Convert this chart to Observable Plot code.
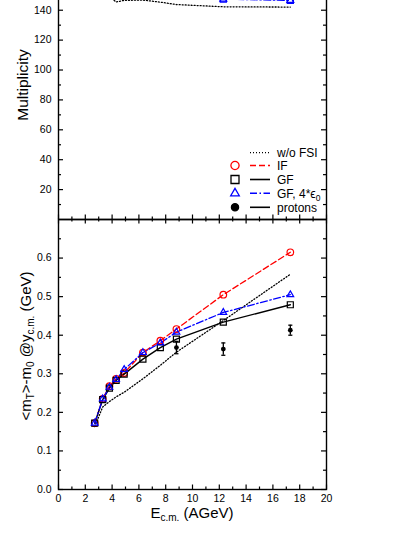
<!DOCTYPE html>
<html><head><meta charset="utf-8">
<script src="https://cdn.jsdelivr.net/npm/d3@7"></script>
<script src="https://cdn.jsdelivr.net/npm/@observablehq/plot@0.6"></script>
<style>
body{margin:0;background:#fff;}
#chart{position:relative;width:415px;height:537px;overflow:hidden;background:#fff;}
#chart svg{display:block;position:absolute;left:0;}
</style></head><body><div id="chart"></div>
<script>
// ---- data ----
const energies = [2.7, 3.3, 3.8, 4.3, 4.9, 6.3, 7.6, 8.8, 12.3, 17.3];
const mtIF    = [0.172, 0.235, 0.268, 0.287, 0.302, 0.355, 0.386, 0.416, 0.505, 0.615];
const mtGF    = [0.172, 0.233, 0.263, 0.283, 0.299, 0.338, 0.368, 0.390, 0.434, 0.479];
const mtGF4   = [0.172, 0.235, 0.265, 0.285, 0.311, 0.355, 0.380, 0.408, 0.459, 0.505];
const mtNoFSI = [0.163, 0.214, 0.228, 0.240, 0.252, 0.287, 0.322, 0.356, 0.438, 0.558];
const protonE   = [8.8, 12.3, 17.3];
const protonMt  = [0.368, 0.364, 0.413];
const protonErr = [0.016, 0.016, 0.013];
const multE     = [3.8, 4.3, 4.9, 6.3, 7.6, 8.8, 12.3, 17.3];
const multNoFSI = [149, 145.5, 146.6, 146.8, 145.4, 143.8, 142.3, 142.1];
const multGF4E  = [12.3, 17.3];
const multGF4   = [147.4, 146.6];
const xMajor = [0, 2, 4, 6, 8, 10, 12, 14, 16, 18, 20];
const xMinor = [1, 3, 5, 7, 9, 11, 13, 15, 17, 19];
const mtMajor = [0, 0.1, 0.2, 0.3, 0.4, 0.5, 0.6];
const mtMinor = [0.05, 0.15, 0.25, 0.35, 0.45, 0.55, 0.65];
const multMajor = [20, 40, 60, 80, 100, 120, 140];
const multMinor = [10, 30, 50, 70, 90, 110, 130];
const legendItems = [
  {label: "w/o FSI", symbol: null, stroke: "#000", dash: "1,2", fill: "none"},
  {label: "IF", symbol: "circle", stroke: "#ff0000", dash: "6,3", fill: "none"},
  {label: "GF", symbol: "square", stroke: "#000", dash: null, fill: "none"},
  {label: "GF, 4*", sub: "0", eps: true, symbol: "triangle", stroke: "#0000ff", dash: "7,2.5,1.5,2.5", fill: "none"},
  {label: "protons", symbol: "circle", stroke: "#000", dash: null, fill: "#000"}
];

const font = "'Liberation Sans', Arial, sans-serif";
const W = 415, ML = 58, MR = 89;
const FW = W - ML - MR;
const zip = (xs, ys) => xs.map((x, i) => ({x, y: ys[i]}));
const capSym = {draw(ctx, size) { const r = Math.sqrt(size) / 2; ctx.moveTo(-r, 0); ctx.lineTo(r, 0); }};

function tickMarks(xMaj, xMin, yMaj, yMin, FH, topTicks) {
  const m = [
    Plot.tickY(yMaj, {y: d => d, insetRight: FW - 5, strokeWidth: 1.2}),
    Plot.tickY(yMin, {y: d => d, insetRight: FW - 3, strokeWidth: 1.2}),
    Plot.tickY(yMaj, {y: d => d, insetLeft: FW - 5, strokeWidth: 1.2}),
    Plot.tickY(yMin, {y: d => d, insetLeft: FW - 3, strokeWidth: 1.2}),
    Plot.tickX(xMaj, {x: d => d, insetTop: FH - 4.5, strokeWidth: 1.2}),
    Plot.tickX(xMin, {x: d => d, insetTop: FH - 2.5, strokeWidth: 1.2})
  ];
  if (topTicks) {
    m.push(Plot.tickX(xMaj, {x: d => d, insetBottom: FH - 4.5, strokeWidth: 1.2}));
    m.push(Plot.tickX(xMin, {x: d => d, insetBottom: FH - 2.5, strokeWidth: 1.2}));
  }
  return m;
}

// ---- top panel (multiplicity) ----
const topH = 221, topMB = 2;
const topFH = topH - topMB;
const topPlot = Plot.plot({
  width: W, height: topH,
  marginLeft: ML, marginRight: MR, marginTop: 0, marginBottom: topMB,
  style: {fontFamily: font, fontSize: "10.5px", color: "#000", background: "transparent"},
  x: {domain: [0, 20], axis: null},
  y: {domain: [0, 146.5], axis: null},
  marks: [
    Plot.axisY(multMajor, {tickSize: 0, tickPadding: 7, label: null, fontSize: 10.5}),
    Plot.line(zip(multE, multNoFSI), {x: "x", y: "y", stroke: "#000", strokeWidth: 1.3, strokeDasharray: "1,2", clip: true}),
    Plot.line(zip(multGF4E, multGF4), {x: "x", y: "y", stroke: "#0000ff", strokeWidth: 1.3, strokeDasharray: "7,2.5,1.5,2.5", clip: true}),
    Plot.dot(zip(multGF4E, multGF4), {x: "x", y: "y", symbol: "square", r: 3.4, stroke: "#0000ff", strokeWidth: 1.3, clip: true}),
    Plot.dot(zip(multGF4E, multGF4), {x: "x", y: "y", symbol: "triangle", r: 2.5, stroke: "#0000ff", strokeWidth: 1.3, clip: true}),
    ...tickMarks(xMajor, xMinor, multMajor, multMinor, topFH, false),
    Plot.ruleX([0, 20], {x: d => d, strokeWidth: 1.4}),
    Plot.ruleY([0], {y: d => d, strokeWidth: 1.4})
  ]
});
topPlot.style.top = "0px";

// ---- bottom panel (mT) ----
const botTop = 217, botH = 320, botMT = 2, botMB = 48;
const botFH = botH - botMT - botMB;
const protons = protonE.map((e, i) => ({x: e, y: protonMt[i], lo: protonMt[i] - protonErr[i], hi: protonMt[i] + protonErr[i]}));
const botPlot = Plot.plot({
  width: W, height: botH,
  marginLeft: ML, marginRight: MR, marginTop: botMT, marginBottom: botMB,
  style: {fontFamily: font, fontSize: "10.5px", color: "#000", background: "transparent"},
  x: {domain: [0, 20], axis: null},
  y: {domain: [0, 0.70], axis: null},
  marks: [
    Plot.axisY(mtMajor, {tickSize: 0, tickPadding: 7, tickFormat: d3.format(".1f"), label: null, fontSize: 10.5}),
    Plot.axisX(xMajor, {tickSize: 0, tickPadding: 5, label: null, fontSize: 10.5}),
    Plot.line(zip(energies, mtNoFSI), {x: "x", y: "y", stroke: "#000", strokeWidth: 1.3, strokeDasharray: "1,2"}),
    Plot.line(zip(energies, mtIF), {x: "x", y: "y", stroke: "#ff0000", strokeWidth: 1.3, strokeDasharray: "6,3"}),
    Plot.line(zip(energies, mtGF), {x: "x", y: "y", stroke: "#000", strokeWidth: 1.4}),
    Plot.line(zip(energies, mtGF4), {x: "x", y: "y", stroke: "#0000ff", strokeWidth: 1.3, strokeDasharray: "7,2.5,1.5,2.5"}),
    Plot.dot(zip(energies, mtIF), {x: "x", y: "y", symbol: "circle", r: 3.3, stroke: "#ff0000", strokeWidth: 1.2}),
    Plot.dot(zip(energies, mtGF), {x: "x", y: "y", symbol: "square", r: 3.4, stroke: "#000", strokeWidth: 1.2}),
    Plot.dot(zip(energies, mtGF4), {x: "x", y: "y", symbol: "triangle", r: 2.5, stroke: "#0000ff", strokeWidth: 1.2}),
    Plot.ruleX(protons, {x: "x", y1: "lo", y2: "hi", stroke: "#000", strokeWidth: 1.3}),
    Plot.dot(protons, {x: "x", y: "lo", symbol: capSym, r: 2.3, stroke: "#000", strokeWidth: 1.3}),
    Plot.dot(protons, {x: "x", y: "hi", symbol: capSym, r: 2.3, stroke: "#000", strokeWidth: 1.3}),
    Plot.dot(protons, {x: "x", y: "y", r: 2.4, fill: "#000", stroke: "none"}),
    ...tickMarks(xMajor, xMinor, mtMajor, mtMinor, botFH, true),
    Plot.frame({strokeWidth: 1.4})
  ]
});
botPlot.style.top = botTop + "px";

const chart = document.getElementById("chart");
chart.appendChild(topPlot);
chart.appendChild(botPlot);

// ---- axis titles ----
const ts = d3.select(topPlot);
ts.append("text").attr("transform", "translate(28,85) rotate(-90)")
  .attr("text-anchor", "middle").attr("font-family", font).attr("font-size", 15.5).attr("fill", "#000")
  .text("Multiplicity");

const bs = d3.select(botPlot);
const yt = bs.append("text").attr("transform", `translate(31,${346 - botTop}) rotate(-90)`)
  .attr("text-anchor", "middle").attr("font-family", font).attr("font-size", 15).attr("fill", "#000");
yt.append("tspan").text("<m");
yt.append("tspan").attr("font-size", 10).attr("dy", 3).text("T");
yt.append("tspan").attr("dy", -3).text(">-m");
yt.append("tspan").attr("font-size", 10).attr("dy", 3).text("0");
yt.append("tspan").attr("dy", -3).text(" @y");
yt.append("tspan").attr("font-size", 10).attr("dy", 3).text("c.m.");
yt.append("tspan").attr("dy", -3).text(" (GeV)");

const xt = bs.append("text").attr("transform", `translate(192,${518 - botTop})`)
  .attr("text-anchor", "middle").attr("font-family", font).attr("font-size", 15).attr("fill", "#000");
xt.append("tspan").text("E");
xt.append("tspan").attr("font-size", 10).attr("dy", 3).text("c.m.");
xt.append("tspan").attr("dy", -3).text(" (AGeV)");

// ---- legend ----
const lg = ts.append("g").attr("font-family", font).attr("font-size", 12).attr("text-anchor", "start");
const rowY = [152.7, 165.5, 179.5, 193.3, 207.3];
legendItems.forEach((it, i) => {
  const y = rowY[i];
  if (it.symbol) {
    const size = it.symbol === "circle" ? Math.PI * (it.fill === "none" ? 4.1 : 3.6) ** 2
      : it.symbol === "square" ? 64 : 32;
    const sym = it.symbol === "circle" ? d3.symbolCircle : it.symbol === "square" ? d3.symbolSquare : d3.symbolTriangle;
    lg.append("path").attr("d", d3.symbol(sym, size)()).attr("transform", `translate(235,${y})`)
      .attr("fill", it.fill).attr("stroke", it.stroke).attr("stroke-width", 1.3);
  }
  lg.append("line").attr("x1", 250).attr("x2", 270).attr("y1", y).attr("y2", y)
    .attr("stroke", it.stroke).attr("stroke-width", it.dash === "1,2" ? 1.3 : 1.6)
    .attr("stroke-dasharray", it.dash);
  const t = lg.append("text").attr("x", 277).attr("y", y).attr("dy", "0.36em").attr("fill", "#000").attr("text-anchor", "start");
  t.append("tspan").text(it.label);
  if (it.eps) {
    t.append("tspan").text("\u03f5");
    t.append("tspan").attr("font-size", 8.5).attr("dy", 3).text(it.sub);
  }
});
</script></body></html>
